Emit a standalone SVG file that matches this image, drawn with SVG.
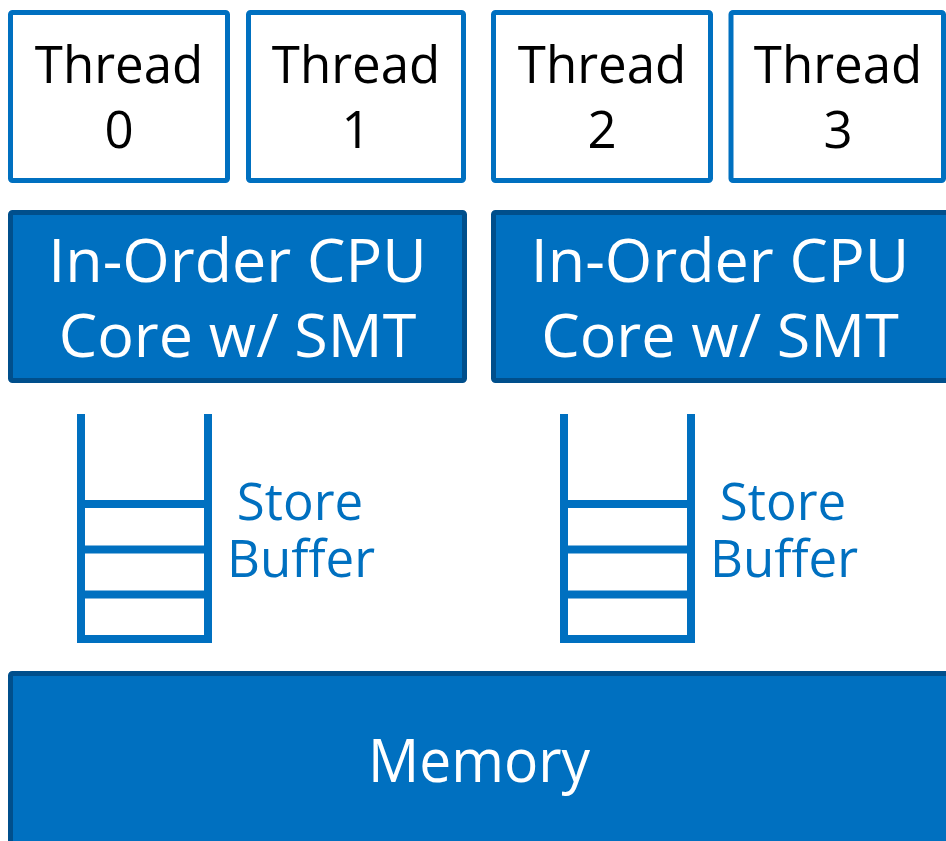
<svg xmlns="http://www.w3.org/2000/svg" width="946" height="841" viewBox="0 0 946 841">
<style>
.thread{fill:#fff;stroke:#0070c0;stroke-width:5}
.core{fill:#0070c0;stroke:#004f8c;stroke-width:5}
.tt{font-family:"Open Sans","Liberation Sans",sans-serif;font-size:51px;fill:#000;text-anchor:middle}
.wt{font-family:"Open Sans","Liberation Sans",sans-serif;font-size:61px;fill:#fff;text-anchor:middle}
.bt{font-family:"Open Sans","Liberation Sans",sans-serif;font-size:51px;fill:#0070c0;text-anchor:middle}
.buf{fill:none;stroke:#0070c0;stroke-width:8}
</style>
<rect width="946" height="841" fill="#fff"/>
<g id="thread0"><rect class="thread" x="10.5" y="12.5" width="217" height="168" rx="2"/><text class="tt"><tspan x="119" y="83">Thread</tspan><tspan x="119" y="148">0</tspan></text></g>
<g id="thread1"><rect class="thread" x="248.5" y="12.5" width="215" height="168" rx="2"/><text class="tt"><tspan x="356" y="83">Thread</tspan><tspan x="356" y="148">1</tspan></text></g>
<g id="thread2"><rect class="thread" x="493.5" y="12.5" width="217" height="168" rx="2"/><text class="tt"><tspan x="602" y="83">Thread</tspan><tspan x="602" y="148">2</tspan></text></g>
<g id="thread3"><rect class="thread" x="731" y="12.5" width="212.5" height="168" rx="2"/><text class="tt"><tspan x="838" y="83">Thread</tspan><tspan x="838" y="148">3</tspan></text></g>
<g id="core0"><rect class="core" x="10.5" y="212.5" width="454" height="168" rx="2"/><text class="wt"><tspan x="237.5" y="282">In-Order CPU</tspan><tspan x="237.5" y="357">Core w/ SMT</tspan></text></g>
<g id="core1"><rect class="core" x="493.5" y="212.5" width="460" height="168" rx="2"/><text class="wt"><tspan x="720" y="282">In-Order CPU</tspan><tspan x="720" y="357">Core w/ SMT</tspan></text></g>
<g id="buffer0"><path class="buf" d="M81 414V639H208V414M81 504H208M81 549.5H208M81 594.5H208"/><text class="bt"><tspan x="300" y="520">Store</tspan><tspan x="301" y="577">Buffer</tspan></text></g>
<g id="buffer1"><path class="buf" d="M564 414V639H691V414M564 504H691M564 549.5H691M564 594.5H691"/><text class="bt"><tspan x="783" y="520">Store</tspan><tspan x="784" y="577">Buffer</tspan></text></g>
<g id="memory"><rect class="core" x="10.5" y="673.5" width="945" height="180" rx="2"/><text class="wt" x="479" y="782" textLength="222" lengthAdjust="spacingAndGlyphs">Memory</text></g>
<g id="connectors"></g>
</svg>
